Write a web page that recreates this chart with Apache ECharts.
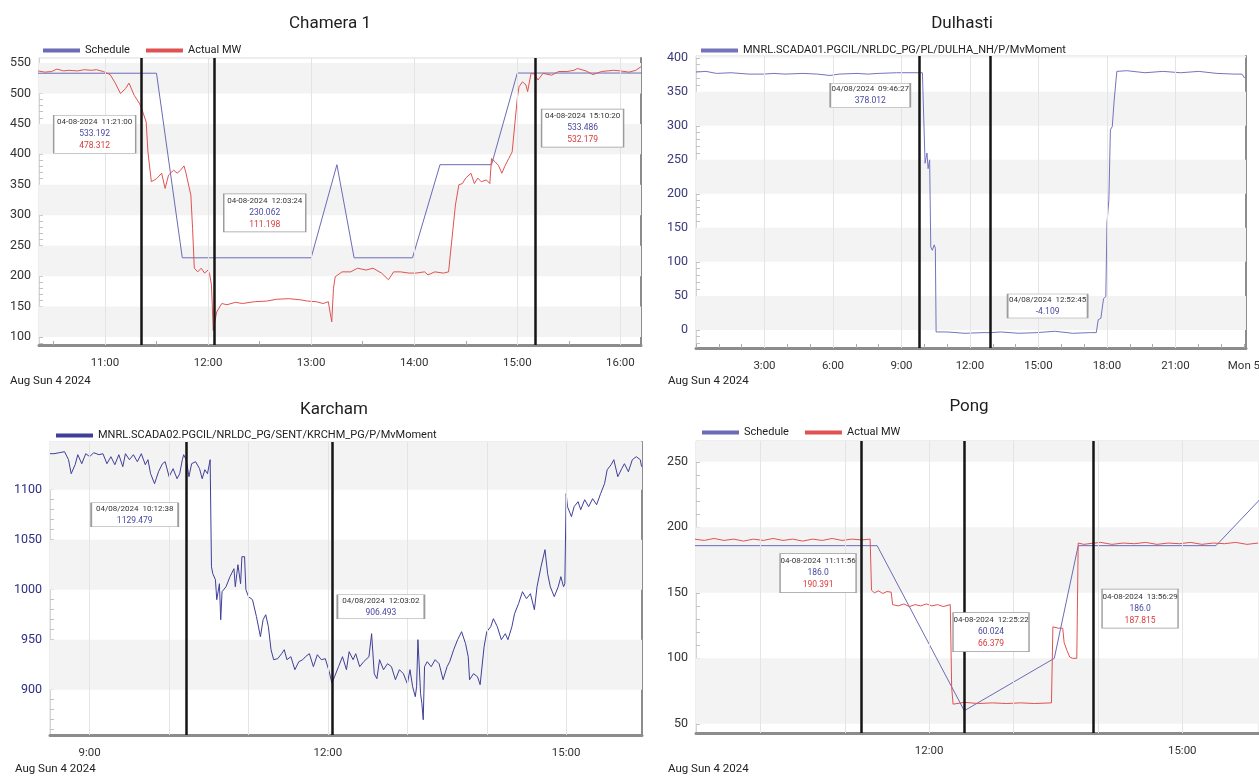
<!DOCTYPE html>
<html style="height:100%;width:100%;">

<head>
  <meta charset="utf-8">
  <title>Hydro stations 04-08-2024</title>
  <script src="https://cdn.jsdelivr.net/npm/echarts@6/dist/echarts.min.js"></script>
</head>

<body style="margin:0px;height:100%;width:100%;background:#fff;">
  <div id="main" style="width:1259px;height:776px"></div>
  <script type="text/javascript">
    // ---- data: [time of day, MW] ----
    var chameraSchedule = [
      ['10:21', 533.2], ['11:30', 533.2], ['11:45', 230.1], ['13:00', 230.1], ['13:15', 383],
      ['13:25', 230.1], ['13:59', 230.1], ['14:15', 383], ['14:45', 383], ['15:00', 533.5], ['16:13', 533.5]
    ];
    var chameraActual = [
      ['10:21', 537], ['10:25', 535], ['10:29', 536], ['10:32', 540], ['10:36', 537], ['10:39', 538], ['10:44', 537],
      ['10:48', 539], ['10:52', 538], ['10:55', 539], ['10:59', 536], ['11:03', 531], ['11:06', 517], ['11:09', 500],
      ['11:12', 508], ['11:14', 517], ['11:17', 497], ['11:20', 484], ['11:21', 478], ['11:22', 481], ['11:24', 453],
      ['11:25', 404], ['11:27', 355], ['11:30', 360], ['11:33', 369], ['11:35', 344], ['11:37', 366], ['11:40', 374],
      ['11:42', 369], ['11:44', 374], ['11:46', 381], ['11:47', 371], ['11:50', 333], ['11:51', 278], ['11:52', 213],
      ['11:54', 207], ['11:56', 213], ['11:58', 205], ['12:00', 210], ['12:01', 202], ['12:02', 185], ['12:03', 111],
      ['12:05', 141], ['12:08', 155], ['12:11', 153], ['12:16', 157], ['12:20', 155], ['12:27', 158], ['12:34', 159],
      ['12:40', 162], ['12:47', 163], ['12:54', 161], ['12:58', 159], ['13:03', 158], ['13:07', 155], ['13:10', 158],
      ['13:11', 141], ['13:12', 125], ['13:13', 180], ['13:14', 199], ['13:18', 207], ['13:23', 207], ['13:27', 213],
      ['13:32', 210], ['13:36', 213], ['13:41', 205], ['13:45', 194], ['13:48', 207], ['13:52', 207], ['13:57', 205],
      ['14:01', 205], ['14:06', 207], ['14:08', 202], ['14:12', 207], ['14:17', 205], ['14:20', 207], ['14:21', 235],
      ['14:24', 317], ['14:26', 350], ['14:28', 352], ['14:30', 361], ['14:33', 369], ['14:35', 352], ['14:37', 361],
      ['14:39', 355], ['14:42', 358], ['14:44', 352], ['14:45', 393], ['14:47', 388], ['14:49', 382], ['14:51', 369],
      ['14:53', 382], ['14:55', 393], ['14:57', 404], ['15:00', 492], ['15:01', 511], ['15:03', 519], ['15:05', 514],
      ['15:06', 503], ['15:08', 533], ['15:10', 532], ['15:12', 522], ['15:13', 519], ['15:15', 533], ['15:20', 530],
      ['15:24', 536], ['15:29', 536], ['15:33', 538], ['15:35', 541], ['15:40', 537], ['15:44', 531], ['15:49', 536],
      ['15:56', 538], ['16:00', 537], ['16:05', 535], ['16:09', 538], ['16:12', 544]
    ];
    var dulhastiMW = [
      ['0:00', 379], ['0:26', 380], ['0:54', 377], ['1:32', 378], ['2:19', 376], ['2:57', 376], ['3:25', 377],
      ['3:54', 376], ['4:41', 377], ['5:19', 376], ['5:52', 374], ['6:16', 376], ['7:03', 377], ['7:31', 376],
      ['7:59', 377], ['8:47', 378], ['9:25', 378], ['9:46', 378], ['9:55', 378], ['10:02', 245], ['10:07', 260],
      ['10:10', 237], ['10:14', 250], ['10:17', 122], ['10:21', 117], ['10:26', 125], ['10:29', 120], ['10:31', -3],
      ['10:59', -3], ['11:47', -5], ['12:34', -4], ['12:53', -4.1], ['13:21', -3], ['14:08', -5], ['14:56', -4],
      ['15:43', -2], ['16:30', -5], ['17:17', -4], ['17:32', -4], ['17:37', 15], ['17:44', 17], ['17:51', 46],
      ['17:57', 49], ['18:00', 157], ['18:05', 191], ['18:09', 294], ['18:14', 299], ['18:19', 338], ['18:26', 380],
      ['18:52', 381], ['19:40', 378], ['20:27', 380], ['21:14', 378], ['22:01', 380], ['22:49', 377], ['23:36', 376],
      ['23:55', 376], ['24:02', 370]
    ];
    var karchamMW = [
      ['8:30', 1136], ['8:33', 1136], ['8:37', 1137], ['8:41', 1138], ['8:44', 1130], ['8:46', 1116], ['8:49', 1125],
      ['8:51', 1135], ['8:54', 1126], ['8:57', 1136], ['9:00', 1133], ['9:03', 1137], ['9:07', 1135], ['9:10', 1136],
      ['9:13', 1126], ['9:16', 1133], ['9:19', 1125], ['9:22', 1135], ['9:25', 1123], ['9:27', 1136], ['9:30', 1130],
      ['9:33', 1135], ['9:36', 1128], ['9:39', 1136], ['9:42', 1125], ['9:44', 1130], ['9:46', 1116], ['9:49', 1106],
      ['9:52', 1118], ['9:55', 1126], ['9:57', 1128], ['10:00', 1113], ['10:03', 1121], ['10:06', 1111], ['10:08', 1116],
      ['10:10', 1130], ['10:11', 1135], ['10:13', 1129.5], ['10:15', 1113], ['10:17', 1126], ['10:20', 1128],
      ['10:23', 1121], ['10:25', 1111], ['10:27', 1120], ['10:29', 1116], ['10:31', 1130], ['10:32', 1023],
      ['10:33', 1016], ['10:35', 1010], ['10:36', 990], ['10:38', 1006], ['10:39', 970], ['10:40', 998], ['10:43', 1003],
      ['10:46', 1013], ['10:49', 1021], ['10:50', 1003], ['10:52', 1025], ['10:54', 1006], ['10:55', 1033],
      ['10:57', 1033], ['10:58', 1000], ['11:00', 993], ['11:03', 990], ['11:06', 973], ['11:09', 953], ['11:11', 970],
      ['11:13', 975], ['11:15', 963], ['11:17', 940], ['11:19', 930], ['11:22', 931], ['11:25', 936], ['11:27', 940],
      ['11:29', 930], ['11:32', 933], ['11:35', 920], ['11:38', 928], ['11:41', 930], ['11:43', 933], ['11:46', 936],
      ['11:49', 923], ['11:52', 935], ['11:55', 930], ['11:58', 931], ['12:01', 918], ['12:03', 906.5], ['12:05', 913],
      ['12:08', 923], ['12:11', 933], ['12:14', 920], ['12:16', 938], ['12:19', 930], ['12:21', 936], ['12:24', 923],
      ['12:27', 928], ['12:31', 933], ['12:33', 956], ['12:35', 916], ['12:37', 911], ['12:39', 930], ['12:42', 920],
      ['12:45', 926], ['12:48', 923], ['12:51', 910], ['12:54', 920], ['12:57', 916], ['13:00', 906], ['13:02', 920],
      ['13:04', 903], ['13:06', 893], ['13:07', 903], ['13:08', 950], ['13:10', 896], ['13:11', 886], ['13:12', 870],
      ['13:13', 923], ['13:15', 928], ['13:18', 923], ['13:21', 930], ['13:24', 926], ['13:27', 910], ['13:30', 923],
      ['13:32', 928], ['13:35', 940], ['13:38', 950], ['13:41', 958], ['13:44', 946], ['13:46', 933], ['13:47', 910],
      ['13:50', 916], ['13:53', 913], ['13:55', 905], ['13:58', 943], ['14:00', 958], ['14:03', 963], ['14:05', 971],
      ['14:08', 963], ['14:11', 950], ['14:14', 956], ['14:16', 950], ['14:19', 963], ['14:21', 976], ['14:24', 986],
      ['14:27', 998], ['14:30', 991], ['14:33', 996], ['14:36', 980], ['14:38', 1003], ['14:41', 1023], ['14:44', 1040],
      ['14:46', 1016], ['14:48', 1003], ['14:51', 993], ['14:54', 1003], ['14:56', 1013], ['14:58', 1003],
      ['14:59', 1006], ['15:00', 1096], ['15:01', 1083], ['15:04', 1073], ['15:06', 1083], ['15:09', 1088],
      ['15:11', 1080], ['15:14', 1090], ['15:17', 1083], ['15:20', 1091], ['15:23', 1085], ['15:26', 1096],
      ['15:29', 1106], ['15:31', 1120], ['15:34', 1125], ['15:36', 1130], ['15:39', 1113], ['15:42', 1121],
      ['15:44', 1126], ['15:47', 1118], ['15:50', 1130], ['15:53', 1133], ['15:56', 1130], ['15:57', 1123]
    ];
    var pongSchedule = [
      ['9:13', 186], ['11:23', 186], ['12:25', 60.0], ['13:29', 100], ['13:46', 186], ['15:24', 186], ['15:55', 221]
    ];
    var pongActual = [
      ['9:13', 191], ['9:20', 190], ['9:27', 191.5], ['9:34', 190], ['9:41', 191], ['9:48', 189.5], ['9:55', 191],
      ['10:02', 190], ['10:09', 191.5], ['10:16', 190], ['10:23', 191], ['10:30', 189.5], ['10:37', 191], ['10:44', 190],
      ['10:51', 191.5], ['10:58', 190], ['11:05', 191], ['11:12', 190.4], ['11:18', 191], ['11:19', 152], ['11:21', 150],
      ['11:24', 151.5], ['11:27', 149.5], ['11:30', 151], ['11:33', 150.5], ['11:34', 141], ['11:38', 140],
      ['11:42', 141.5], ['11:46', 139.5], ['11:50', 141], ['11:54', 140], ['11:58', 141.5], ['12:02', 140],
      ['12:06', 141], ['12:10', 139.5], ['12:15', 141], ['12:16', 78], ['12:17', 65], ['12:25', 66.4], ['12:35', 65.5],
      ['12:45', 66], ['12:55', 65.5], ['13:05', 66], ['13:15', 65.5], ['13:27', 66], ['13:28', 124], ['13:32', 123],
      ['13:35', 123], ['13:36', 112], ['13:38', 106], ['13:40', 101], ['13:42', 100], ['13:45', 100], ['13:46', 188],
      ['13:50', 187], ['13:56', 187.8], ['14:02', 188.5], ['14:10', 187], ['14:18', 188], ['14:26', 187.5],
      ['14:34', 188.5], ['14:42', 187], ['14:50', 188], ['14:58', 187.5], ['15:06', 188.5], ['15:14', 187],
      ['15:22', 188], ['15:30', 187.5], ['15:38', 188.5], ['15:46', 187], ['15:54', 188]
    ];

    // cursor lines and their readouts
    var chameraCursors = ['11:21:00', '12:03:24', '15:10:20'];
    var chameraNotes = [
      ['04-08-2024  11:21:00', '533.192', '478.312'],
      ['04-08-2024  12:03:24', '230.062', '111.198'],
      ['04-08-2024  15:10:20', '533.486', '532.179']
    ];
    var dulhastiCursors = ['9:46:27', '12:52:45'];
    var dulhastiNotes = [['04/08/2024  09:46:27', '378.012'], ['04/08/2024  12:52:45', '-4.109']];
    var karchamCursors = ['10:12:38', '12:03:02'];
    var karchamNotes = [['04/08/2024  10:12:38', '1129.479'], ['04/08/2024  12:03:02', '906.493']];
    var pongCursors = ['11:11:56', '12:25:22', '13:56:29'];
    var pongNotes = [
      ['04-08-2024  11:11:56', '186.0', '190.391'],
      ['04-08-2024  12:25:22', '60.024', '66.379'],
      ['04-08-2024  13:56:29', '186.0', '187.815']
    ];

    // axis labels (hours / MW)
    var chameraXLabels = [11, 12, 13, 14, 15, 16];
    var dulhastiXLabels = [3, 6, 9, 12, 15, 18, 21, 24];
    var karchamXLabels = [9, 12, 15];
    var pongXLabels = [12, 15];
    var chameraYLabels = [100, 150, 200, 250, 300, 350, 400, 450, 500, 550];
    var dulhastiYLabels = [0, 50, 100, 150, 200, 250, 300, 350, 400];
    var karchamYLabels = [900, 950, 1000, 1050, 1100];
    var pongYLabels = [50, 100, 150, 200, 250];

    var DUL_NAME = 'MNRL.SCADA01.PGCIL/NRLDC_PG/PL/DULHA_NH/P/MvMoment';
    var KAR_NAME = 'MNRL.SCADA02.PGCIL/NRLDC_PG/SENT/KRCHM_PG/P/MvMoment';

    function hm(s) {
      var p = s.split(':');
      return +p[0] + (+p[1]) / 60 + (+(p[2] || 0)) / 3600;
    }
    function pts(arr) {
      return arr.map(function (d) { return [hm(d[0]), d[1]]; });
    }
    function steps(a, b, st) {
      var r = [];
      for (var v = a; v <= b + 1e-9; v += st) r.push(+v.toFixed(3));
      return r;
    }

    var FONT = 'Roboto, sans-serif';
    var BLUE = '#6b6bb6', RED = '#e05252', NAVY = '#3f3f99';

    var panels = [
      {
        title: 'Chamera 1', tx: 330, ty: 24, dx: 10, dy: 381,
        grid: { left: 39, top: 58, width: 602, height: 287 },
        x: [10.36, 16.20], y: [86.9, 558.2], xTickStep: 0.5,
        xLabels: chameraXLabels, xGrid: chameraXLabels, yLabels: chameraYLabels, yColor: '#333',
        series: [{ name: 'Schedule', data: chameraSchedule, color: BLUE }, { name: 'Actual MW', data: chameraActual, color: RED }],
        cursors: chameraCursors, notes: chameraNotes,
        noteAt: [['10:54', 433], ['12:33', 304], ['15:38', 443]], noteSize: [82, 38],
        legend: { left: 38, top: 40 }, border: true
      },
      {
        title: 'Dulhasti', tx: 962, ty: 24, dx: 668, dy: 381,
        grid: { left: 696, top: 56, width: 550, height: 292 },
        x: [0, 24.09], y: [-26.6, 402.6], xTickStep: 1,
        xLabels: dulhastiXLabels, xGrid: [3, 6, 9, 12, 15, 18, 21], yLabels: dulhastiYLabels, yColor: '#3a3a7a',
        series: [{ name: DUL_NAME, data: dulhastiMW, color: '#7474bd' }],
        cursors: dulhastiCursors, notes: dulhastiNotes,
        noteAt: [['7:38', 345], ['15:24', 35]], noteSize: [80, 24],
        legend: { left: 696, top: 40 }, border: true
      },
      {
        title: 'Karcham', tx: 334, ty: 410, dx: 15, dy: 769,
        grid: { left: 50, top: 442, width: 592, height: 293 },
        x: [8.50, 15.955], y: [854.7, 1147.7], xTickStep: 1,
        xLabels: karchamXLabels, xGrid: [9, 10, 11, 12, 13, 14, 15], yLabels: karchamYLabels, yColor: '#2e2e85',
        series: [{ name: KAR_NAME, data: karchamMW, color: NAVY }],
        cursors: karchamCursors, notes: karchamNotes,
        noteAt: [['9:34', 1075], ['12:40', 983]], noteSize: [87, 24],
        legend: { left: 51, top: 425 }, border: true
      },
      {
        title: 'Pong', tx: 969, ty: 407, dx: 668, dy: 769,
        grid: { left: 696, top: 441, width: 563, height: 292 },
        x: [9.236, 15.91], y: [43.0, 265.9], xTickStep: 1,
        xLabels: pongXLabels, xGrid: [10, 11, 12, 13, 14, 15], yLabels: pongYLabels, yColor: '#333',
        series: [{ name: 'Schedule', data: pongSchedule, color: BLUE }, { name: 'Actual MW', data: pongActual, color: RED }],
        cursors: pongCursors, notes: pongNotes,
        noteAt: [['10:41', 165], ['12:44', 120], ['14:30', 138]], noteSize: [76, 39],
        legend: { left: 697, top: 422 }, border: false
      }
    ];

    var option = {
      animation: false,
      backgroundColor: '#fff',
      textStyle: { fontFamily: FONT },
      grid: [], xAxis: [], yAxis: [], legend: [], series: [], graphic: []
    };

    panels.forEach(function (p, i) {
      option.grid.push(Object.assign({
        show: true, borderColor: '#dcdcdc', borderWidth: 1, backgroundColor: '#fff',
        containLabel: false, outerBoundsMode: 'none'
      }, p.grid));

      option.xAxis.push({
        gridIndex: i, type: 'value', min: p.x[0], max: p.x[1],
        axisLine: { show: true, onZero: false, lineStyle: { color: '#8c8c8c', width: 3 } },
        axisTick: {
          show: true, inside: true, length: 4,
          customValues: steps(Math.ceil(p.x[0] / p.xTickStep) * p.xTickStep, p.x[1], p.xTickStep),
          lineStyle: { color: '#aaa' }
        },
        axisLabel: {
          customValues: p.xLabels, color: '#333', fontSize: 11.5, margin: 12, fontFamily: FONT,
          formatter: function (v) { return v === 24 ? 'Mon 5' : Math.round(v) + ':00'; }
        },
        splitLine: { show: false }
      });

      var lo = p.yLabels[0] - 50, hi = p.yLabels[p.yLabels.length - 1] + 50;
      option.yAxis.push({
        gridIndex: i, type: 'value', min: p.y[0], max: p.y[1],
        axisLine: { show: true, onZero: false, lineStyle: { color: '#d4d4d4' } },
        axisTick: {
          show: true, inside: true, length: 4,
          customValues: steps(lo, hi, 10).filter(function (v) { return v > p.y[0] && v < p.y[1]; }),
          lineStyle: { color: '#c2c2c2' }
        },
        axisLabel: {
          customValues: p.yLabels, color: p.yColor, fontSize: 12.5, margin: 8, fontFamily: FONT,
          formatter: function (v) { return String(v); }
        },
        splitLine: { show: false }
      });
      option.yAxis.push({
        gridIndex: i, type: 'value', position: 'right', min: 0, max: 1,
        axisLine: { show: p.border, onZero: false, lineStyle: { color: '#8c8c8c', width: 2 } },
        axisTick: { show: false }, axisLabel: { show: false }, splitLine: { show: false }
      });

      option.legend.push({
        left: p.legend.left, top: p.legend.top, orient: 'horizontal',
        data: p.series.map(function (s) { return s.name; }),
        icon: 'rect', itemWidth: 37, itemHeight: 4, itemGap: 16, selectedMode: false,
        textStyle: { fontSize: 11, color: '#222', fontFamily: FONT }
      });

      // alternating horizontal bands
      var bands = [];
      for (var k = 0; k < p.yLabels.length; k += 2) {
        var b0 = p.yLabels[k], b1 = Math.min(b0 + 50, p.y[1]);
        bands.push([{ yAxis: b0 }, { yAxis: b1 }]);
      }

      var vlines = p.xGrid.map(function (h) {
        return { xAxis: h, lineStyle: { color: '#e4e4e4', width: 1, type: 'solid' } };
      }).concat(p.cursors.map(function (t) {
        return { xAxis: hm(t), lineStyle: { color: '#151515', width: 2.5, type: 'solid' } };
      }));

      var boxes = p.notes.map(function (n, j) {
        var txt = '{t|' + n[0] + '}\n{b|' + n[1] + '}' + (n[2] ? '\n{r|' + n[2] + '}' : '');
        return {
          coord: [hm(p.noteAt[j][0]), p.noteAt[j][1]],
          symbol: 'rect', symbolSize: p.noteSize,
          itemStyle: { color: '#fff', borderColor: '#9c9c9c', borderWidth: 1 },
          label: {
            show: true, position: 'inside', formatter: txt,
            rich: {
              t: { color: '#333', fontSize: 8, lineHeight: 12, fontFamily: FONT },
              b: { color: '#4848a0', fontSize: 8.5, lineHeight: 12, fontFamily: FONT },
              r: { color: '#d83c3c', fontSize: 8.5, lineHeight: 12, fontFamily: FONT }
            }
          }
        };
      });

      p.series.forEach(function (s, k) {
        var ser = {
          type: 'line', name: s.name, xAxisIndex: i, yAxisIndex: 2 * i,
          data: pts(s.data), showSymbol: false, symbol: 'none', silent: true,
          color: s.color, lineStyle: { width: 1, color: s.color }, z: 3
        };
        if (k === 0) {
          ser.markArea = { silent: true, z: 1, itemStyle: { color: '#f3f3f3' }, label: { show: false }, data: bands };
          ser.markLine = { silent: true, symbol: 'none', label: { show: false }, z: 5, data: vlines };
          ser.markPoint = { silent: true, z: 10, data: boxes };
        }
        option.series.push(ser);
      });

      option.graphic.push({
        type: 'text', x: p.tx, y: p.ty, silent: true,
        style: { text: p.title, fontSize: 17, fill: '#1e1e1e', fontFamily: FONT, align: 'center', verticalAlign: 'middle' }
      });
      option.graphic.push({
        type: 'text', x: p.dx, y: p.dy, silent: true,
        style: { text: 'Aug Sun 4 2024', fontSize: 11.5, fill: '#222', fontFamily: FONT, align: 'left', verticalAlign: 'middle' }
      });
    });

    var myChart = echarts.init(document.getElementById('main'));
    myChart.setOption(option);
  </script>
</body>

</html>
